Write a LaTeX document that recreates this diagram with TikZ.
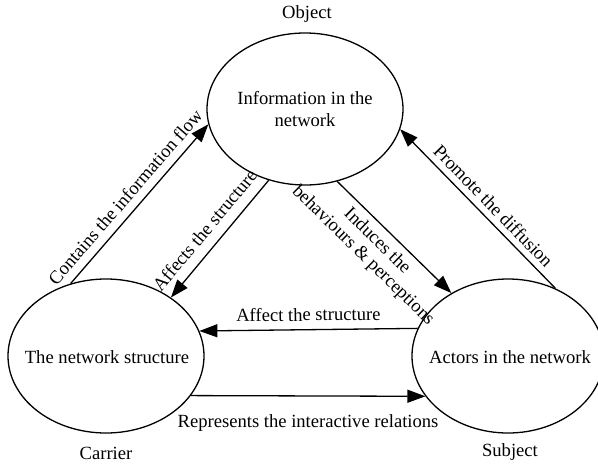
\documentclass[tikz,border=0pt]{standalone}
\usepackage{fontspec}
\setmainfont{Liberation Serif}
\usetikzlibrary{shapes.geometric,arrows.meta}
\begin{document}
\begin{tikzpicture}[x=1pt,y=-1pt,
  blob/.style={ellipse, draw, line width=1.3pt, inner sep=0pt},
  txt/.style={font=\fontsize{18.6}{22}\selectfont, inner sep=0pt, align=center},
  link/.style={line width=1.3pt, -{Triangle[length=18pt,width=13pt]}},
  lab/.style={font=\fontsize{18.6}{20}\selectfont, sloped, align=center}]
\clip (0,0) rectangle (598,464);
% the three ellipses
\node[blob, minimum width=196pt, minimum height=152pt] (T) at (305,109) {};
\node[txt] (Tt) at (305,109) {Information in the\\network};
\node[blob, minimum width=196pt, minimum height=154pt] (L) at (106,356) {};
\node[txt] (Lt) at (107,357) {The network structure};
\node[blob, minimum width=192pt, minimum height=154pt] (R) at (508,356) {};
\node[txt] (Rt) at (510,357) {Actors in the network};
% role captions
\node[txt] (obj) at (307,14) {Object};
\node[txt] (car) at (106,453) {Carrier};
\node[txt] (sub) at (510,452) {Subject};
% relations
\draw[link] (L.116.6) -- node[lab, above, pos=0.48, inner sep=8pt] {Contains the information flow} (T.189.4);
\draw[link] (T.243.1) -- node[lab, above, pos=0.52, inner sep=10pt] {Affects the structure} (L.42.2);
\draw[link] (T.294.3) -- node[lab, below, pos=0.44, inner sep=6pt] {Induces the\\behaviours \& perceptions} (R.132.6);
\draw[link] (R.55.4) -- node[lab, above, pos=0.46, inner sep=6pt] {Promote the diffusion} (T.-12.5);
\draw[link] (R.163.9) -- node[lab, above, pos=0.5, inner sep=8pt] {Affect the structure} (L.15.5);
\draw[link] (L.-25.5) -- node[lab, below, pos=0.5, inner sep=18pt] {Represents the interactive relations} (R.206.3);
\end{tikzpicture}
\end{document}
